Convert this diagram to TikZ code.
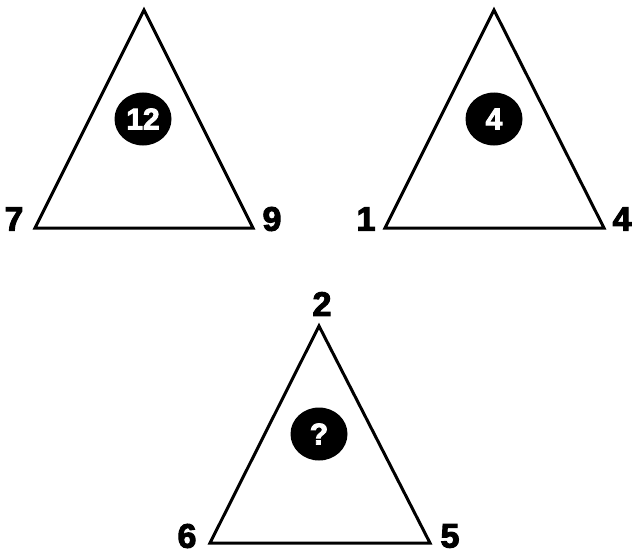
\documentclass[tikz,border=0pt]{standalone}
\usepackage{fontspec}
\setmainfont{Liberation Sans}
\newfontfamily\heavyfont{Liberation Sans}[BoldFeatures={FakeBold=3}]
\usetikzlibrary{shapes.geometric}
\begin{document}
\begin{tikzpicture}[x=1pt,y=-1pt,
  tri/.style={draw=black, line width=3pt, line join=miter},
  blob/.style={ellipse, fill=black, minimum width=57pt, minimum height=53pt, inner sep=0pt, text=white, font=\heavyfont\fontsize{30}{30}\selectfont\bfseries},
  num/.style={font=\heavyfont\fontsize{34}{34}\selectfont\bfseries, inner sep=0pt}]
\useasboundingbox (0,0) rectangle (636,559);
% triangle 1
\coordinate (a1) at (144,10);
\coordinate (b1) at (35,228);
\coordinate (c1) at (253,228);
\draw[tri] (a1) -- (b1) -- (c1) -- cycle;
\node[blob] (m1) at (143,119) {12};
\node[num] (l1) at (14,219) {7};
\node[num] (r1) at (272,219) {9};
% triangle 2
\coordinate (a2) at (494,10);
\coordinate (b2) at (385,228);
\coordinate (c2) at (604,228);
\draw[tri] (a2) -- (b2) -- (c2) -- cycle;
\node[blob] (m2) at (494,119) {4};
\node[num] (l2) at (366,219) {1};
\node[num] (r2) at (622,219) {4};
% triangle 3
\coordinate (a3) at (319,326);
\coordinate (b3) at (210,543);
\coordinate (c3) at (430,543);
\draw[tri] (a3) -- (b3) -- (c3) -- cycle;
\node[blob] (m3) at (319,434) {?};
\node[num] (t3) at (322,304) {2};
\node[num] (l3) at (187,536) {6};
\node[num] (r3) at (450,536) {5};
\end{tikzpicture}
\end{document}
